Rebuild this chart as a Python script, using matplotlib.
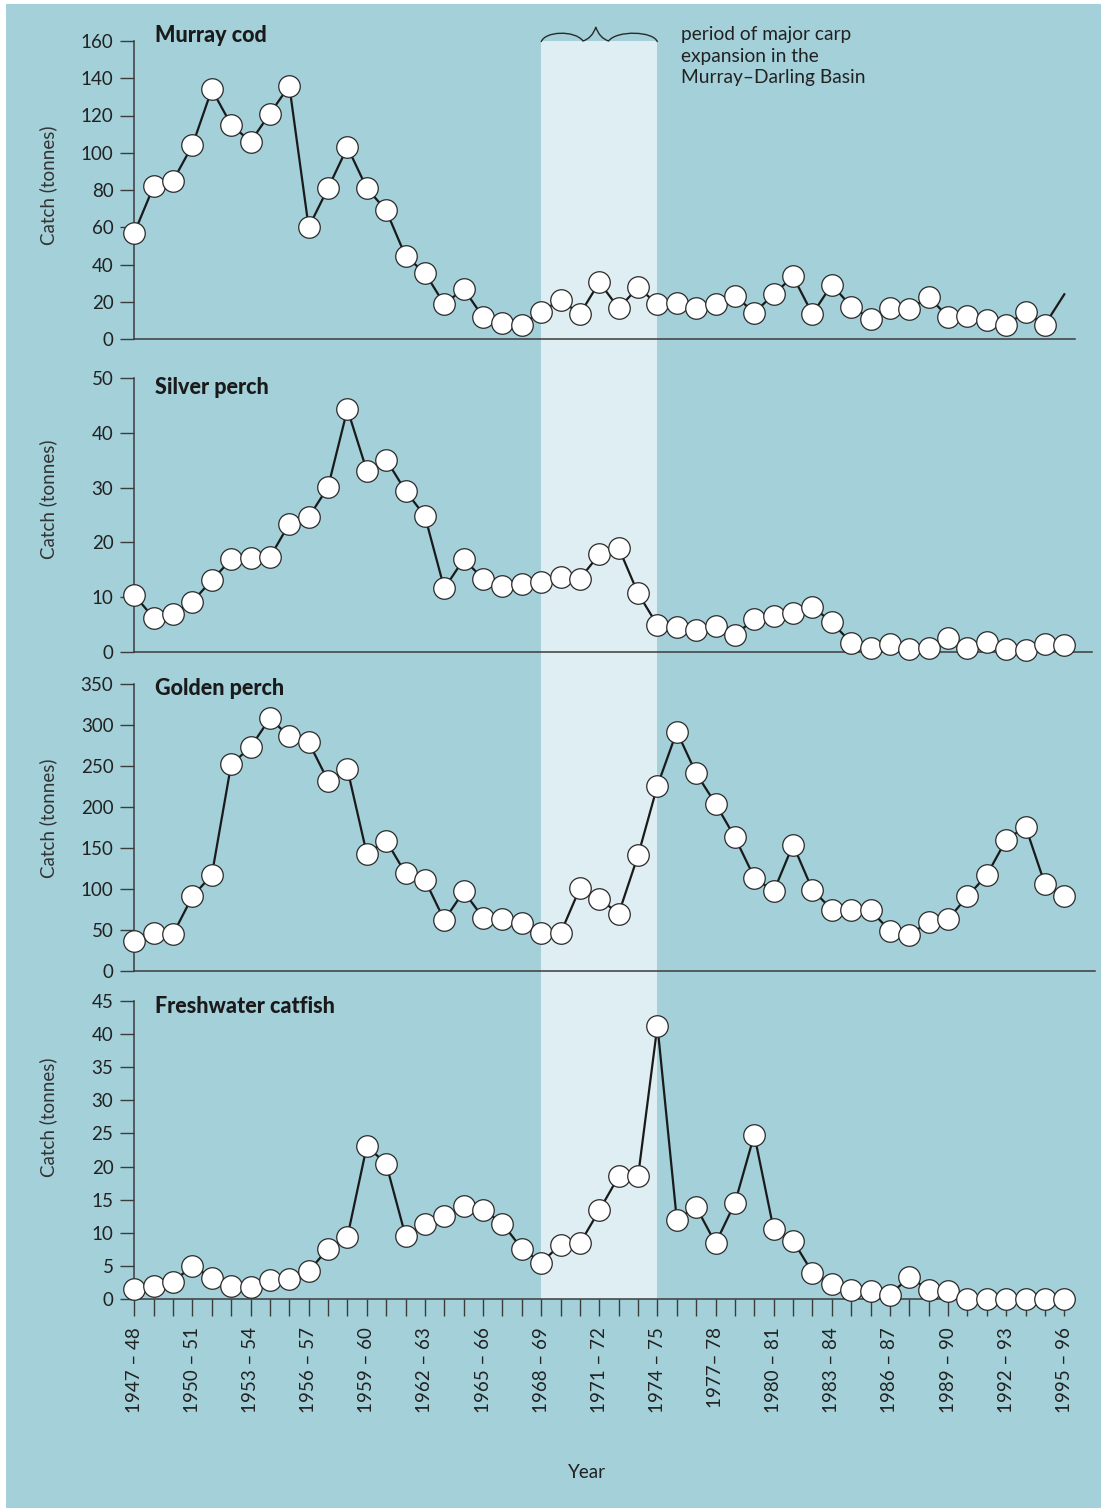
#!/usr/bin/env python3
"""Commercial catch of four native fish in the Murray-Darling Basin, 1947-48 to 1995-96."""

import matplotlib

matplotlib.use("Agg")
import matplotlib.pyplot as plt
from matplotlib.patches import PathPatch, Rectangle
from matplotlib.path import Path
from matplotlib.transforms import blended_transform_factory

plt.rcParams["font.family"] = ["Lato", "DejaVu Sans"]

FIRST_SEASON = 1947

# catch in tonnes, one value per season starting 1947-48
MURRAY_COD = [
    57, 82, 85, 104, 134, 115, 106, 121, 136, 60,
    81, 103, 81, 69, 44.5, 35.5, 18.7, 27, 11.7, 8.8,
    7.7, 14.7, 21, 13.4, 30.5, 16.5, 27.7, 18.7, 19.3, 16.5,
    18.7, 23.3, 14.1, 24, 33.6, 13.4, 29.2, 17.4, 11, 16.5,
    16, 22.6, 11.9, 12.5, 10.3, 7.7, 14.3, 7.7, 24,
]
SILVER_PERCH = [
    10.4, 6.2, 6.9, 9.2, 13.1, 16.9, 17.2, 17.3, 23.4, 24.6,
    30.1, 44.3, 33.1, 35.1, 29.4, 24.8, 11.6, 16.9, 13.4, 12.1,
    12.4, 12.7, 13.7, 13.4, 17.8, 19, 10.7, 4.9, 4.5, 4.1,
    4.7, 3.1, 6.0, 6.5, 7.2, 8.3, 5.4, 1.7, 0.8, 1.5,
    0.6, 0.8, 2.5, 0.8, 1.8, 0.6, 0.4, 1.4, 1.3,
]
GOLDEN_PERCH = [
    36, 46, 45, 91, 117, 252, 273, 308, 286, 279,
    232, 246, 143, 159, 119, 111, 62, 97, 65, 63,
    59, 46, 46, 101, 88, 70, 141, 226, 292, 241,
    204, 163, 114, 97, 154, 99, 75, 75, 74, 49,
    44, 60, 63, 91, 117, 160, 176, 106, 91,
]
CATFISH = [
    1.5, 2.0, 2.6, 5.0, 3.2, 2.0, 1.8, 2.8, 3.0, 4.2,
    7.6, 9.4, 23.1, 20.4, 9.5, 11.3, 12.6, 14.0, 13.5, 11.4,
    7.6, 5.5, 8.2, 8.4, 13.4, 18.5, 18.5, 41.3, 12.0, 13.9,
    8.4, 14.5, 24.8, 10.5, 8.8, 4.0, 2.3, 1.4, 1.25, 0.65,
    3.3, 1.4, 1.25, 0, 0, 0, 0, 0, 0,
]

TICK_SEASONS = list(range(1947, 1996, 3))
TICK_LABELS = [
    "1947 – 48", "1950 – 51", "1953 – 54", "1956 – 57", "1959 – 60",
    "1962 – 63", "1965 – 66", "1968 – 69", "1971 – 72", "1974 – 75",
    "1977– 78", "1980 – 81", "1983 – 84", "1986 – 87", "1989 – 90",
    "1992 – 93", "1995 – 96",
]
CARP_PERIOD = (1968, 1974)
NOTE = "period of major carp\nexpansion in the\nMurray–Darling Basin"

BG = "#a3d0d9"
BAND = "#dfeef2"
INK = "#222222"
AXIS = "#3c3c3c"

W, H = 1104, 1511
X0 = 134.3
PX_PER_YEAR = 19.375


def seasons(values):
    return [FIRST_SEASON + i for i in range(len(values))]


def add_panel(fig, values, title, ymax, ystep, right, top, bottom, label_y,
              title_y, markevery=None, bottom_axis=False):
    ax = fig.add_axes([X0 / W, 1 - bottom / H, (right - X0) / W, (bottom - top) / H])
    ax.set_facecolor("none")
    ax.set_xlim(FIRST_SEASON, FIRST_SEASON + (right - X0) / PX_PER_YEAR)
    ax.set_ylim(0, ymax)
    for side in ("top", "right"):
        ax.spines[side].set_visible(False)
    for side in ("left", "bottom"):
        ax.spines[side].set_color(AXIS)
        ax.spines[side].set_linewidth(1.1)

    ax.set_yticks(range(0, ymax + 1, ystep))
    ax.tick_params(axis="y", length=10, width=1.0, color=AXIS, pad=5,
                   labelsize=13.5, labelcolor=INK)

    if bottom_axis:
        ax.set_xticks(TICK_SEASONS)
        ax.set_xticklabels(TICK_LABELS, rotation=90)
        ax.set_xticks(range(FIRST_SEASON, 1996), minor=True)
        ax.tick_params(axis="x", which="both", length=12, width=1.0, color=AXIS,
                       pad=8, labelsize=13.5, labelcolor=INK)
    else:
        ax.set_xticks([])

    ax.plot(seasons(values), values, color="#1a1a1a", linewidth=1.6,
            marker="o", markersize=15.5, markerfacecolor="white",
            markeredgecolor="#2a2a2a", markeredgewidth=0.9,
            markevery=markevery, clip_on=False, zorder=3)

    ax.text((155 - X0) / (right - X0), title_y, title, transform=ax.transAxes,
            ha="left", va="center", fontsize=15.5, fontweight="black", color="#1a1a1a")
    fig.text(48 / W, 1 - label_y / H, "Catch (tonnes)", rotation=90,
             ha="center", va="center", fontsize=13.5, color="#333333")
    return ax


def main() -> int:
    fig = plt.figure(figsize=(W / 100, H / 100), dpi=100, facecolor="white")
    fig.add_artist(Rectangle((6 / W, 1 - 1508 / H), 1095 / W, 1504 / H,
                             transform=fig.transFigure, facecolor=BG,
                             edgecolor="none", zorder=-3))

    cod = add_panel(fig, MURRAY_COD, "Murray cod", 160, 20, 1075, 41, 339, 185,
                    1.017, markevery=slice(0, len(MURRAY_COD) - 1))
    add_panel(fig, SILVER_PERCH, "Silver perch", 50, 10, 1092, 378, 652, 499, 0.967)
    add_panel(fig, GOLDEN_PERCH, "Golden perch", 350, 50, 1095, 684, 971, 818, 0.983)
    cat = add_panel(fig, CATFISH, "Freshwater catfish", 45, 5, 1075, 1001, 1299, 1117,
                    0.98, bottom_axis=True)

    # carp expansion band spans all four panels
    trans = blended_transform_factory(cat.transData, fig.transFigure)
    y_lo = cat.get_position().y0
    y_hi = cod.get_position().y1
    start, end = CARP_PERIOD
    fig.add_artist(Rectangle((start, y_lo), end - start, y_hi - y_lo,
                             transform=trans, facecolor=BAND, edgecolor="none",
                             zorder=-2))

    # curly brace over the band
    span = end - start
    pts = [
        (0.0, 42), (0.03, 31), (0.29, 30), (0.36, 41),
        (0.44, 38), (0.47, 27),
        (0.50, 38), (0.58, 41),
        (0.65, 30), (0.97, 31), (1.0, 42),
    ]
    verts = [(start + t * span, 1 - y / H) for t, y in pts]
    codes = [Path.MOVETO, Path.CURVE4, Path.CURVE4, Path.CURVE4,
             Path.CURVE3, Path.CURVE3, Path.CURVE3, Path.CURVE3,
             Path.CURVE4, Path.CURVE4, Path.CURVE4]
    fig.add_artist(PathPatch(Path(verts, codes), transform=trans, facecolor="none",
                             edgecolor="#2a2a2a", linewidth=1.0, zorder=4))

    fig.text(681 / W, 1 - 26 / H, NOTE, ha="left", va="top", fontsize=13.8,
             linespacing=1.33, color=INK)
    fig.text(587 / W, 1 - 1472 / H, "Year", ha="center", va="center",
             fontsize=13.5, color=INK)

    fig.savefig("out.png", dpi=100, facecolor="white")
    return 0


if __name__ == "__main__":
    raise SystemExit(main())
